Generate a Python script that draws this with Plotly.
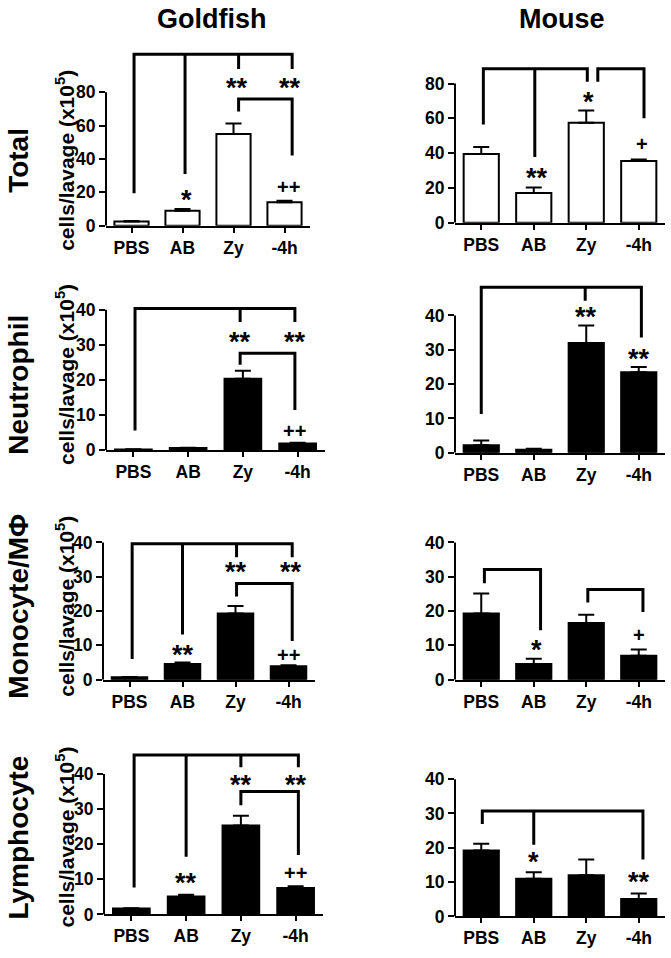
import plotly.graph_objects as go

W, H = 671, 958
FONT = "Arial, Liberation Sans, sans-serif"

categories = ["PBS", "AB", "Zy", "-4h"]
col_titles = ["Goldfish", "Mouse"]
row_titles = ["Total", "Neutrophil", "Monocyte/MΦ", "Lymphocyte"]
y_title = "cells/lavage (x10<sup>5</sup>)"

# means and upper SEM (x10^5 cells/lavage)
goldfish_total = [2.5, 9.0, 55.0, 14.0]
goldfish_total_err = [0.3, 1.0, 6.3, 1.0]
mouse_total = [39.5, 17.0, 57.5, 35.5]
mouse_total_err = [4.0, 3.2, 7.0, 0.9]
goldfish_neut = [0.2, 0.6, 20.3, 1.9]
goldfish_neut_err = [0.05, 0.1, 2.3, 0.2]
mouse_neut = [2.2, 0.9, 32.0, 23.5]
mouse_neut_err = [1.4, 0.3, 5.1, 1.5]
goldfish_mono = [0.7, 4.6, 19.3, 3.9]
goldfish_mono_err = [0.1, 0.4, 2.2, 0.3]
mouse_mono = [19.3, 4.6, 16.5, 7.0]
mouse_mono_err = [5.8, 1.5, 2.4, 1.8]
goldfish_lym = [1.7, 5.1, 25.3, 7.5]
goldfish_lym_err = [0.1, 0.5, 2.8, 0.5]
mouse_lym = [19.2, 11.0, 12.0, 5.1]
mouse_lym_err = [2.0, 1.9, 4.6, 1.6]

# brackets: (top level, [(category position, drop end level), ...])
goldfish_total_brackets = [(102.8, [(0.05, 19.5), (1.05, 31), (2.1, 94), (3.15, 94)]),
                           (76, [(2.1, 68.5), (3.15, 42)])]
mouse_total_brackets = [(88.5, [(0.04, 56.4), (1.02, 37.8), (2.02, 81)]),
                        (88.5, [(2.22, 81), (3.1, 60)])]
goldfish_neut_brackets = [(40.3, [(0.03, 5.6), (1.95, 36.5), (2.95, 36.5)]),
                          (27.6, [(1.95, 24.3), (2.95, 11.4)])]
mouse_neut_brackets = [(48.2, [(0.0, 11.3), (1.98, 44.3), (3.05, 33.6)])]
goldfish_mono_brackets = [(39.6, [(0.05, 6), (1.0, 13.2), (2.02, 35.7), (3.07, 35.7)]),
                          (28, [(2.02, 24.2), (3.07, 11.3)])]
mouse_mono_brackets = [(32.1, [(0.06, 28.1), (1.13, 14.4)]),
                       (26.3, [(2.03, 22.5), (3.08, 19.7)])]
goldfish_lym_brackets = [(45.4, [(0.05, 7.7), (1.0, 16.4), (2.0, 41.9), (3.05, 41.9)]),
                         (35, [(2.0, 31.1), (3.05, 16.9)])]
mouse_lym_brackets = [(30.7, [(0.02, 26.9), (1.0, 20.9), (3.08, 16.6)])]

# significance marks: (category position, level, text)
goldfish_total_sig = [(2.07, 85, "**"), (3.1, 85, "**"), (1.08, 18, "*"), (3.07, 24, "++")]
mouse_total_sig = [(2.05, 71.5, "*"), (1.07, 28, "**"), (3.07, 46, "+")]
goldfish_neut_sig = [(1.95, 32, "**"), (2.95, 32, "**"), (2.95, 5.7, "++")]
mouse_neut_sig = [(2.0, 40.8, "**"), (3.0, 28.5, "**")]
goldfish_mono_sig = [(2.0, 32.4, "**"), (3.05, 32.4, "**"), (1.0, 8.4, "**"), (3.0, 7.5, "++")]
mouse_mono_sig = [(1.05, 9.9, "*"), (3.0, 13.4, "+")]
goldfish_lym_sig = [(2.0, 37.9, "**"), (3.0, 37.9, "**"), (1.0, 10, "**"), (3.0, 12.2, "++")]
mouse_lym_sig = [(1.0, 17.1, "*"), (3.0, 11.3, "**")]

panels = [
    dict(vals=goldfish_total, err=goldfish_total_err, br=goldfish_total_brackets, sig=goldfish_total_sig,
         fill="white", xl=106, xr=310, y0=225.7, ppu=1.69, amax=80, step=20, rtop=110),
    dict(vals=mouse_total, err=mouse_total_err, br=mouse_total_brackets, sig=mouse_total_sig,
         fill="white", xl=455, xr=665, y0=222.7, ppu=1.7625, amax=80, step=20, rtop=95),
    dict(vals=goldfish_neut, err=goldfish_neut_err, br=goldfish_neut_brackets, sig=goldfish_neut_sig,
         fill="black", xl=106, xr=325, y0=453.3, ppu=3.56, amax=40, step=10, rtop=45),
    dict(vals=mouse_neut, err=mouse_neut_err, br=mouse_neut_brackets, sig=mouse_neut_sig,
         fill="black", xl=455, xr=665, y0=456, ppu=3.48, amax=40, step=10, rtop=52),
    dict(vals=goldfish_mono, err=goldfish_mono_err, br=goldfish_mono_brackets, sig=goldfish_mono_sig,
         fill="black", xl=103, xr=315, y0=686, ppu=3.48, amax=40, step=10, rtop=44),
    dict(vals=mouse_mono, err=mouse_mono_err, br=mouse_mono_brackets, sig=mouse_mono_sig,
         fill="black", xl=455, xr=665, y0=686, ppu=3.48, amax=40, step=10, rtop=42),
    dict(vals=goldfish_lym, err=goldfish_lym_err, br=goldfish_lym_brackets, sig=goldfish_lym_sig,
         fill="black", xl=104, xr=323, y0=924, ppu=3.56, amax=40, step=10, rtop=48),
    dict(vals=mouse_lym, err=mouse_lym_err, br=mouse_lym_brackets, sig=mouse_lym_sig,
         fill="black", xl=455, xr=665, y0=926, ppu=3.48, amax=40, step=10, rtop=42),
]


def px2x(px):
    return px / W


def px2y(py):
    return 1 - py / H


fig = go.Figure()
annotations = []
shapes = []
xpos = list(range(len(categories)))
TICKFONT = dict(family=FONT, size=17.5, color="black", weight="bold")

for i, p in enumerate(panels, start=1):
    xa = "x" if i == 1 else f"x{i}"
    ya = "y" if i == 1 else f"y{i}"
    fig.add_trace(go.Bar(
        x=xpos, y=p["vals"], xaxis=xa, yaxis=ya, width=0.67,
        marker=dict(color=p["fill"], line=dict(color="black", width=2)),
        error_y=dict(type="data", symmetric=False, array=p["err"], arrayminus=[0] * len(p["err"]),
                     color="black", thickness=2, width=8),
        showlegend=False, hoverinfo="skip",
    ))
    # brackets
    bx, by = [], []
    for top, drops in p["br"]:
        first, last = drops[0], drops[-1]
        bx += [first[0], first[0], last[0], last[0], None]
        by += [first[1], top, top, last[1], None]
        for d in drops[1:-1]:
            bx += [d[0], d[0], None]
            by += [top, d[1], None]
    fig.add_trace(go.Scatter(x=bx, y=by, xaxis=xa, yaxis=ya, mode="lines",
                             line=dict(color="black", width=3), showlegend=False,
                             hoverinfo="skip", cliponaxis=False))
    for sx, sy, st in p["sig"]:
        is_star = "*" in st
        annotations.append(dict(x=sx, y=sy, xref=xa, yref=ya, text=st, showarrow=False,
                                yanchor="middle", yshift=(-4 if is_star else -1),
                                font=dict(family=FONT, size=(27 if is_star else 20),
                                          color="black", weight="bold")))
    top_px = p["y0"] - p["rtop"] * p["ppu"]
    lay_x = "xaxis" if i == 1 else f"xaxis{i}"
    lay_y = "yaxis" if i == 1 else f"yaxis{i}"
    fig.layout[lay_x] = dict(
        domain=[px2x(p["xl"]), px2x(p["xr"])], anchor=ya, range=[-0.5, 3.5],
        tickvals=xpos, ticktext=categories, showline=True, linecolor="black", linewidth=2,
        ticks="outside", ticklen=5, tickwidth=2, tickcolor="black", showgrid=False, zeroline=False,
        tickfont=TICKFONT, fixedrange=True,
    )
    fig.layout[lay_y] = dict(
        domain=[px2y(p["y0"]), px2y(top_px)], anchor=xa, range=[0, p["rtop"]],
        tickvals=list(range(0, p["amax"] + 1, p["step"])), showline=False, showgrid=False,
        zeroline=False, ticks="outside", ticklen=6, tickwidth=2, tickcolor="black",
        tickfont=TICKFONT, fixedrange=True,
    )
    shapes.append(dict(type="line", xref=f"{xa} domain", yref=ya, x0=0, x1=0, y0=0, y1=p["amax"],
                       line=dict(color="black", width=2)))

# column titles
for cx, t in zip([212, 562], col_titles):
    annotations.append(dict(x=px2x(cx), y=px2y(16.5), xref="paper", yref="paper", text=t,
                            showarrow=False, xanchor="center", yanchor="middle",
                            font=dict(family=FONT, size=27, color="black", weight="bold")))
# row titles and y-axis titles
row_centers = [160, 387, 612, 846]
ytitle_centers = [160, 377, 612, 846]
for cy, t in zip(row_centers, row_titles):
    annotations.append(dict(x=px2x(19), y=px2y(cy), xref="paper", yref="paper", text=t,
                            showarrow=False, textangle=-90, xanchor="center", yanchor="middle",
                            font=dict(family=FONT, size=28, color="black", weight="bold")))
for cy in ytitle_centers:
    annotations.append(dict(x=px2x(65), y=px2y(cy), xref="paper", yref="paper", text=y_title,
                            showarrow=False, textangle=-90, xanchor="center", yanchor="middle",
                            font=dict(family=FONT, size=21, color="black", weight="bold")))

fig.update_layout(
    width=W, height=H, margin=dict(l=0, r=0, t=0, b=0),
    paper_bgcolor="white", plot_bgcolor="white",
    annotations=annotations, shapes=shapes, bargap=0.33,
)

fig.write_html("out.html",
               config={"displayModeBar": False, "staticPlot": True},
               post_script="document.body.style.margin='0';document.body.style.padding='0';")
